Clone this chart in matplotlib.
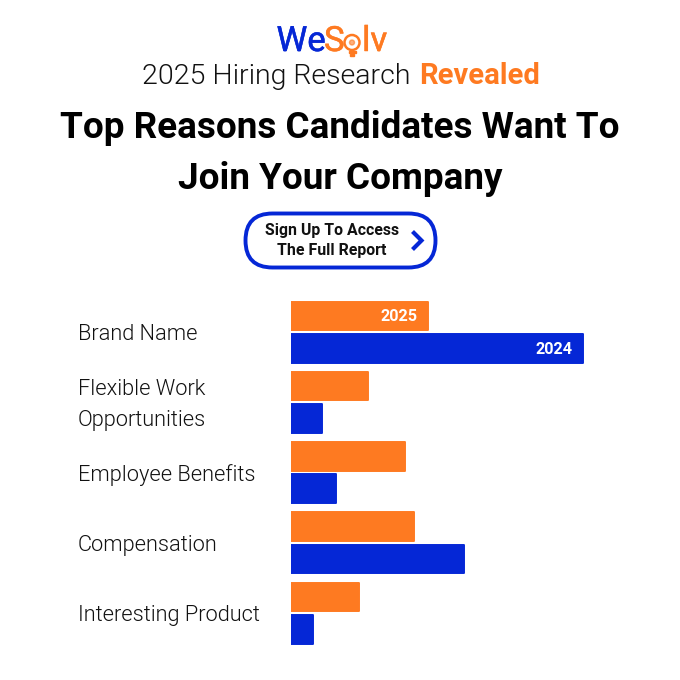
import matplotlib.pyplot as plt
import matplotlib.patheffects as pe
from matplotlib.patches import FancyBboxPatch, Circle, Rectangle
from matplotlib.transforms import ScaledTranslation

categorias = ["Brand Name", "Flexible Work\nOpportunities", "Employee Benefits", "Compensation", "Interesting Product"]
valores_2025 = [15.0, 8.5, 12.5, 13.5, 7.5]
valores_2024 = [32.0, 3.5, 5.0, 19.0, 2.5]

LARANJA = "#fe7a21"
AZUL = "#0527d6"
plt.rcParams['font.family'] = ['Roboto', 'DejaVu Sans']

fig = plt.figure(figsize=(6.8, 6.8), dpi=100)

# camada em pixels para os textos e o botao
tela = fig.add_axes([0, 0, 1, 1])
tela.set_xlim(0, 680)
tela.set_ylim(680, 0)
tela.axis("off")

# logo
for x_logo, txt, cor in [(276.5, "We", AZUL), (324, "S", LARANJA), (362, "lv", LARANJA)]:
    t = tela.text(x_logo, 51, txt, color=cor, fontsize=25, fontweight=400, va="baseline", ha="left")
    t.set_path_effects([pe.withStroke(linewidth=0.35, foreground=cor)])
tela.add_patch(Circle((352, 42.5), 7.5, fc="white", ec=LARANJA, lw=1.8))
tela.add_patch(Circle((352, 42.5), 2.5, color=LARANJA, alpha=0.6))
tela.add_patch(Rectangle((348.5, 50.5), 7, 2.5, color=LARANJA))
tela.add_patch(Rectangle((350, 54), 4, 1.5, color=LARANJA))

# titulos
tela.text(142, 84, "2025 Hiring Research", color="#111111", fontsize=20.5, fontweight=300, ha="left", va="baseline")
tela.text(419.5, 84, "Revealed", color=LARANJA, fontsize=21, fontweight="bold", ha="left", va="baseline")
tela.text(340, 138, "Top Reasons Candidates Want To", color="black", fontsize=26.6, fontweight="bold", ha="center", va="baseline")
tela.text(340, 189, "Join Your Company", color="black", fontsize=26.6, fontweight="bold", ha="center", va="baseline")

# botao
tela.add_patch(FancyBboxPatch((245.5, 213.5), 190, 54, boxstyle="round,pad=0,rounding_size=27", fc="white", ec=AZUL, lw=2.8))
tela.text(332, 231, "Sign Up To Access", color="#111111", fontsize=11.4, fontweight="bold", ha="center", va="center")
tela.text(332, 250, "The Full Report", color="#111111", fontsize=11.4, fontweight="bold", ha="center", va="center")
tela.plot([412.5, 421.5, 412.5], [231.5, 240.5, 249.5], color=AZUL, lw=3, solid_joinstyle="miter", solid_capstyle="butt")

# grafico
esq, topo, larg, alt = 290.5, 290.0, 330.0, 365.0
ax = fig.add_axes([esq / 680, 1 - (topo + alt) / 680, larg / 680, alt / 680])
ax.patch.set_alpha(0)
passo = 70.25
ax.set_ylim((topo + alt - 332) / passo, (topo - 332) / passo)
ax.set_xlim(0, larg / 9.14)

y = list(range(len(categorias)))
desl = 16.2 / passo
h = 28.6 / passo
ax.barh([i - desl for i in y], valores_2025, height=h, color=LARANJA, edgecolor=LARANJA, lw=1.4, joinstyle="round")
ax.barh([i + desl for i in y], valores_2024, height=h, color=AZUL, edgecolor=AZUL, lw=1.4, joinstyle="round")

ax.text(valores_2025[0] - 1.05, 0 - desl + 1 / passo, "2025", color="white", fontsize=11.7, fontweight="bold", ha="right", va="center")
ax.text(valores_2024[0] - 1.15, 0 + desl + 1 / passo, "2024", color="white", fontsize=11.7, fontweight="bold", ha="right", va="center")

ax.set_yticks(y)
ax.set_yticklabels(categorias, fontsize=15.7, fontweight=300, color="#111111", ha="left", va="center", linespacing=1.6)
ax.tick_params(axis="y", length=0, pad=(esq - 77.5) * 0.72)
desce = ScaledTranslation(0, -2.5 / 100, fig.dpi_scale_trans)
for rotulo in ax.get_yticklabels():
    rotulo.set_transform(rotulo.get_transform() + desce)
ax.set_xticks([])
for lado in ax.spines.values():
    lado.set_visible(False)

fig.savefig("out.png", dpi=100, facecolor="white")
